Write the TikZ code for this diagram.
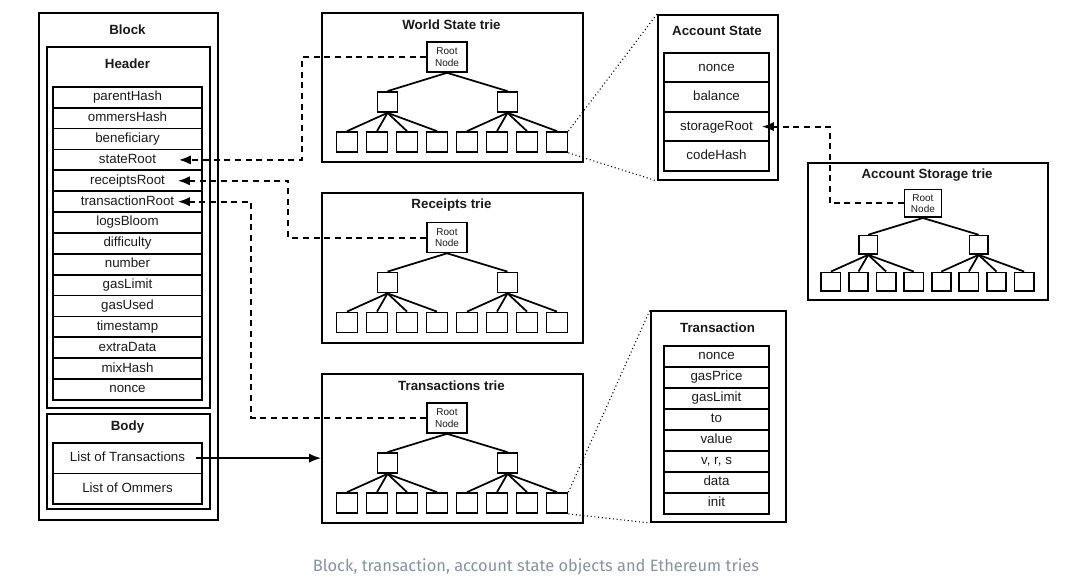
\documentclass[tikz,border=0pt]{standalone}
\usepackage{fontspec}
\setmainfont{Liberation Sans}
\newfontfamily\capfont{Fira Sans}
\usetikzlibrary{arrows.meta,calc}
\definecolor{capcol}{HTML}{8393A8}
\definecolor{txt}{HTML}{1A1A1A}
\tikzset{
 box/.style={draw, line width=1.5pt, inner sep=0pt, anchor=north west},
 ttl/.style={font=\bfseries\fontsize{10}{12}\selectfont, inner sep=0pt, text=txt},
 cell/.style={draw, line width=1.3pt, inner sep=0pt, anchor=north, font=\fontsize{10}{12}\selectfont, text=txt, text height=7.2pt, text depth=2pt},
 rootn/.style={draw, line width=1.2pt, inner sep=0pt, align=center, font=\fontsize{7.5}{8.5}\selectfont, text=txt},
 trin/.style={draw, line width=1.3pt, inner sep=0pt},
 edge/.style={line width=1.3pt},
 dsh/.style={line width=1.5pt, dash pattern=on 4.5pt off 3.5pt, -{Latex[length=9pt,width=7pt]}},
 sarr/.style={line width=1.2pt, -{Latex[length=9pt,width=7pt]}},
 dotl/.style={line width=0.8pt, dotted},
}
\newcommand\drawtrie[5]{%
 \begin{scope}[shift={(#2,#3)}]
  \node[box, minimum width={#4*261*0.75pt}, minimum height={#4*149*0.75pt}] (#1box) at (0,0) {};
  \node[ttl] (#1title) at ({#4*130.5},13) {#5};
  \node[rootn, minimum width={#4*30pt}, minimum height={#4*22.5pt}] (#1root) at ({#4*126},{#4*45}) {Root\\Node};
  \node[trin, minimum width={#4*15pt}, minimum height={#4*15pt}] (#1m1) at ({#4*66.5},{#4*90}) {};
  \node[trin, minimum width={#4*15pt}, minimum height={#4*15pt}] (#1m2) at ({#4*186.5},{#4*90}) {};
  \foreach \i in {1,...,8}
   \node[trin, minimum width={#4*15.75pt}, minimum height={#4*15pt}] (#1l\i) at ({#4*(26+30*(\i-1))},{#4*130}) {};
  \draw[edge] (#1root.south) -- (#1m1.north);
  \draw[edge] (#1root.south) -- (#1m2.north);
  \foreach \i in {1,...,4} \draw[edge] (#1m1.south) -- (#1l\i.north);
  \foreach \i in {5,...,8} \draw[edge] (#1m2.south) -- (#1l\i.north);
 \end{scope}}
\begin{document}
\begin{tikzpicture}[x=0.75pt,y=-0.75pt]
\useasboundingbox[fill=white] (0,0) rectangle (1080,577);
% Block
\node[box, minimum width={179*0.75pt}, minimum height={507*0.75pt}] (block) at (38,12) {};
\node[ttl] (blockt) at (127.5,30) {Block};
\node[box, minimum width={163*0.75pt}, minimum height={361*0.75pt}] (header) at (46,46) {};
\node[ttl] (headert) at (127.5,64) {Header};
\foreach \t [count=\i] in {parentHash,ommersHash,beneficiary,stateRoot,receiptsRoot,transactionRoot,logsBloom,difficulty,number,gasLimit,gasUsed,timestamp,extraData,mixHash,nonce}
  \node[cell, minimum width={149*0.75pt}, minimum height={20.87*0.75pt}] (h\i) at (127.5,{86+(\i-1)*20.87}) {\t};
\node[box, minimum width={163*0.75pt}, minimum height={95*0.75pt}] (body) at (46,413) {};
\node[ttl] (bodyt) at (127.5,427) {Body};
\node[cell, minimum width={149*0.75pt}, minimum height={30.5*0.75pt}] (b1) at (127.5,442) {List of Transactions};
\node[cell, minimum width={149*0.75pt}, minimum height={30.5*0.75pt}] (b2) at (127.5,472.5) {List of Ommers};
% Tries
\drawtrie{ws}{321}{12}{1}{World State trie}
\drawtrie{rc}{321}{192.5}{1}{Receipts trie}
\drawtrie{tx}{321}{373}{1}{Transactions trie}
\drawtrie{st}{807}{162}{0.92}{Account Storage trie}
% Account State
\node[box, minimum width={120*0.75pt}, minimum height={165*0.75pt}] (as) at (657,14) {};
\node[ttl] (ast) at (717,31) {Account State};
\foreach \t [count=\i] in {nonce,balance,storageRoot,codeHash}
  \node[cell, minimum width={105*0.75pt}, minimum height={29.5*0.75pt}] (a\i) at (716.5,{52+(\i-1)*29.5}) {\t};
% Transaction
\node[box, minimum width={135*0.75pt}, minimum height={211*0.75pt}] (tr) at (650,310) {};
\node[ttl] (trt) at (717.5,328) {Transaction};
\foreach \t [count=\i] in {nonce,gasPrice,gasLimit,to,value,{v, r, s},data,init}
  \node[cell, minimum width={105*0.75pt}, minimum height={21*0.75pt}] (t\i) at (716.5,{345+(\i-1)*21}) {\t};
% arrow tips
\coordinate (stTip) at ($(h4.east)+(-24,0)$);
\coordinate (rcTip) at ($(h5.east)+(-25,0)$);
\coordinate (txTip) at ($(h6.east)+(-25,0)$);
\coordinate (srTip) at ($(a3.east)+(-8,0)$);
\coordinate (ltStart) at ($(b1.east)+(-7,0)$);
% connectors
\draw[dsh] (wsroot.west) -- ++(-124,0) |- (stTip);
\draw[dsh] (rcroot.west) -- ++(-138,0) |- (rcTip);
\draw[dsh] (txroot.west) -- ++(-175,0) |- (txTip);
\draw[dsh] (stroot.west) -- ++(-74,0) |- (srTip);
\draw[sarr] (ltStart) -- (ltStart -| txbox.west);
\draw[dotl] (wsl8.north east) -- (as.north west);
\draw[dotl] (wsl8.south east) -- (as.south west);
\draw[dotl] (txl8.north east) -- (tr.north west);
\draw[dotl] (txl8.south east) -- (tr.south west);
% caption
\node[font=\capfont\fontsize{12.3}{14}\selectfont, text=capcol, anchor=base, inner sep=0pt] (cap) at (536,571) {Block, transaction, account state objects and Ethereum tries};
\end{tikzpicture}
\end{document}
